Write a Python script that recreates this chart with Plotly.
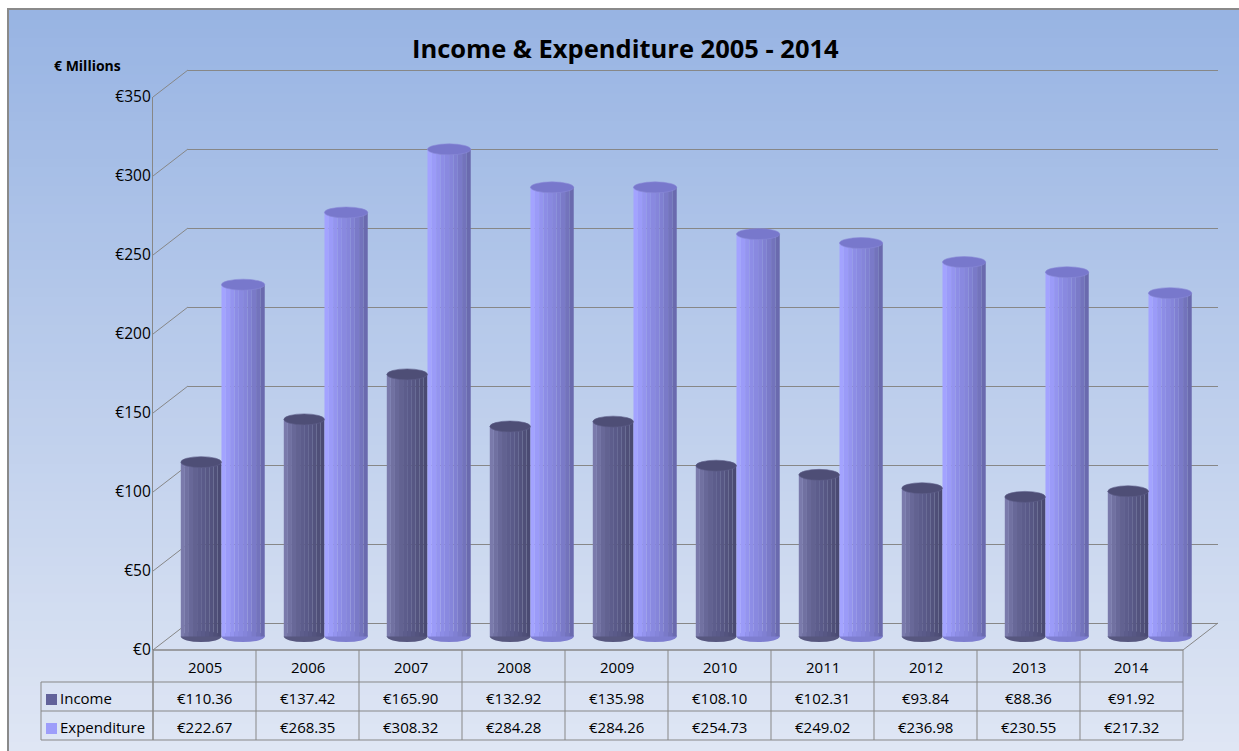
import plotly.graph_objects as go

# ---------------- data ----------------
years = [2005, 2006, 2007, 2008, 2009, 2010, 2011, 2012, 2013, 2014]
income = [110.36, 137.42, 165.90, 132.92, 135.98, 108.10, 102.31, 93.84, 88.36, 91.92]
expenditure = [222.67, 268.35, 308.32, 284.28, 284.26, 254.73, 249.02, 236.98, 230.55, 217.32]
series_names = ["Income", "Expenditure"]
y_ticks = [0, 50, 100, 150, 200, 250, 300, 350]
title_text = "Income & Expenditure 2005 - 2014"
axis_title = "€ Millions"

# ---------------- geometry helpers (pixels -> paper) ----------------
W, H = 1239, 751
def px(x):
    return x / W
def py(y):
    return 1 - y / H

K = 79.0 / 50.0            # pixels per € million
FRONT_X0, FRONT_X1, FRONT_Y0 = 153, 1183, 650
DX, DY = 35, -27           # depth offset of the back wall
BACK_X0, BACK_X1, BACK_Y0 = FRONT_X0 + DX, FRONT_X1 + DX, FRONT_Y0 + DY
MID_X0, MID_X1, MID_Y0 = FRONT_X0 + DX / 2, FRONT_X1 + DX / 2, FRONT_Y0 + DY / 2

def ydom(y0pix, lo, hi):
    return [py(y0pix - lo * K), py(y0pix - hi * K)]

GRID = "#878787"
FONT = "Open Sans"

fig = go.Figure()

# ---------------- background ----------------
shapes = []
top_c = (152, 180, 227)
bot_c = (223, 230, 244)
n_bg = 80
y_start, y_end = 10, H
for i in range(n_bg):
    f = i / (n_bg - 1)
    c = tuple(int(round(top_c[k] + f * (bot_c[k] - top_c[k]))) for k in range(3))
    ya = y_start + (y_end - y_start) * i / n_bg
    yb = y_start + (y_end - y_start) * (i + 1) / n_bg + 0.8
    shapes.append(dict(type="rect", xref="paper", yref="paper", layer="below",
                       x0=px(9), x1=1.0, y0=py(min(yb, H)), y1=py(ya),
                       fillcolor="rgb(%d,%d,%d)" % c, line=dict(width=0)))
# chart border
shapes.append(dict(type="rect", xref="paper", yref="paper", layer="below",
                   x0=px(8), x1=px(W + 5), y0=py(H + 5), y1=py(9),
                   line=dict(color="#8a8a8a", width=2), fillcolor="rgba(0,0,0,0)"))

# side-wall diagonals for each tick
for t in y_ticks:
    shapes.append(dict(type="line", xref="paper", yref="paper", layer="below",
                       x0=px(FRONT_X0), y0=py(FRONT_Y0 - t * K),
                       x1=px(BACK_X0), y1=py(BACK_Y0 - t * K),
                       line=dict(color=GRID, width=1)))
# right floor diagonal
shapes.append(dict(type="line", xref="paper", yref="paper", layer="below",
                   x0=px(FRONT_X1), y0=py(FRONT_Y0), x1=px(BACK_X1), y1=py(BACK_Y0),
                   line=dict(color=GRID, width=1)))

# ---------------- data table lines ----------------
ROW_Y = [650, 682, 711, 740]
TAB_L = 41
colw = (FRONT_X1 - FRONT_X0) / len(years)
shapes.append(dict(type="line", xref="paper", yref="paper", layer="below",
                   x0=px(FRONT_X0), x1=px(FRONT_X1), y0=py(ROW_Y[0]), y1=py(ROW_Y[0]),
                   line=dict(color=GRID, width=1.5)))
for yy in ROW_Y[1:]:
    shapes.append(dict(type="line", xref="paper", yref="paper", layer="below",
                       x0=px(TAB_L), x1=px(FRONT_X1), y0=py(yy), y1=py(yy),
                       line=dict(color=GRID, width=1)))
shapes.append(dict(type="line", xref="paper", yref="paper", layer="below",
                   x0=px(TAB_L), x1=px(TAB_L), y0=py(ROW_Y[1]), y1=py(ROW_Y[3]),
                   line=dict(color=GRID, width=1)))
for k in range(len(years) + 1):
    xx = FRONT_X0 + k * colw
    shapes.append(dict(type="line", xref="paper", yref="paper", layer="below",
                       x0=px(xx), x1=px(xx), y0=py(ROW_Y[0]), y1=py(ROW_Y[3]),
                       line=dict(color=GRID, width=1)))
# front axis line continued down through the table
shapes.append(dict(type="line", xref="paper", yref="paper", layer="below",
                   x0=px(FRONT_X0), x1=px(FRONT_X0), y0=py(ROW_Y[3]), y1=py(FRONT_Y0),
                   line=dict(color=GRID, width=1)))

# legend keys in table
key_colors = ["#62629a", "#9d9dfa"]
key_y = [(694, 705), (723, 734)]
for kc, (a, b) in zip(key_colors, key_y):
    shapes.append(dict(type="rect", xref="paper", yref="paper", layer="above",
                       x0=px(46), x1=px(57), y0=py(b), y1=py(a),
                       fillcolor=kc, line=dict(width=0)))

# ---------------- cylinders (bars as vertical strips) ----------------
inc_cols = ["#7a7aab", "#7171a1", "#686898", "#626291", "#5d5d8c", "#5a5a89",
            "#575784", "#53537e", "#4f4f78", "#4a4a72"]
exp_cols = ["#a3a3ff", "#9b9bf8", "#9494ef", "#8d8de6", "#8989e0", "#8585da",
            "#8080d2", "#7a7ac8", "#7373bc", "#6a6aae"]
top_cols = ["#4e4e76", "#7878cc"]
bot_cols = ["#57577f", "#7e7ed0"]
rim_cols = ["#5e5e8a", "#8a8ad8"]
offsets = [(-0.40, -0.005), (-0.005, 0.415)]
values = [income, expenditure]
cols = [inc_cols, exp_cols]
EH = 5.5 / K  # ellipse half height in data units

for s in range(2):
    o0, o1 = offsets[s]
    n = len(cols[s])
    w = (o1 - o0) / n
    for j in range(n):
        fig.add_trace(go.Bar(x=years, y=values[s], width=w, offset=o0 + j * w,
                             marker=dict(color=cols[s][j], line=dict(width=0)),
                             name=series_names[s], showlegend=False,
                             xaxis="x3", yaxis="y3", hoverinfo="skip"))
    for yr, v in zip(years, values[s]):
        shapes.append(dict(type="circle", xref="x3", yref="y3", layer="below",
                           x0=yr + o0, x1=yr + o1, y0=-EH, y1=EH,
                           fillcolor=bot_cols[s], line=dict(width=0)))
        shapes.append(dict(type="circle", xref="x3", yref="y3", layer="above",
                           x0=yr + o0, x1=yr + o1, y0=v - EH, y1=v + EH,
                           fillcolor=top_cols[s], line=dict(color=rim_cols[s], width=0.6)))

# dummy traces to create the back / front subplots
fig.add_trace(go.Scatter(x=[years[0]], y=[0], xaxis="x", yaxis="y", mode="markers",
                         marker=dict(opacity=0), showlegend=False, hoverinfo="skip"))
fig.add_trace(go.Scatter(x=[years[0]], y=[0], xaxis="x2", yaxis="y2", mode="markers",
                         marker=dict(opacity=0), showlegend=False, hoverinfo="skip"))

# ---------------- annotations ----------------
ann = []
ann.append(dict(text="<b>%s</b>" % title_text, xref="paper", yref="paper",
                x=px(625), y=py(48), showarrow=False, xanchor="center", yanchor="middle",
                font=dict(family=FONT, size=25.5, color="black")))
ann.append(dict(text="<b>%s</b>" % axis_title, xref="paper", yref="paper",
                x=px(52), y=py(65), showarrow=False, xanchor="left", yanchor="middle",
                font=dict(family=FONT, size=14, color="black")))
row_text_y = [667, 698, 727]
TFS = 15
for k, yr in enumerate(years):
    cx = FRONT_X0 + (k + 0.5) * colw
    ann.append(dict(text=str(yr), xref="paper", yref="paper", x=px(cx), y=py(row_text_y[0]),
                    showarrow=False, xanchor="center", yanchor="middle",
                    font=dict(family=FONT, size=TFS, color="black")))
    for s in range(2):
        ann.append(dict(text="€%.2f" % values[s][k], xref="paper", yref="paper",
                        x=px(cx), y=py(row_text_y[s + 1]), showarrow=False,
                        xanchor="center", yanchor="middle",
                        font=dict(family=FONT, size=TFS, color="black")))
for s in range(2):
    ann.append(dict(text=series_names[s], xref="paper", yref="paper", x=px(58),
                    y=py(row_text_y[s + 1]), showarrow=False, xanchor="left", yanchor="middle",
                    font=dict(family=FONT, size=TFS, color="black")))

# ---------------- layout ----------------
hidden_x = dict(showgrid=False, zeroline=False, showticklabels=False, showline=False,
                ticks="", automargin=False)
fig.update_layout(
    template="none",
    width=W, height=H, autosize=False,
    margin=dict(l=0, r=0, t=0, b=0, pad=0, autoexpand=False),
    paper_bgcolor="white", plot_bgcolor="rgba(0,0,0,0)",
    showlegend=False, barmode="overlay",
    shapes=shapes, annotations=ann,
    # back wall
    xaxis=dict(domain=[px(BACK_X0), px(BACK_X1)], range=[2004.5, 2014.5], **hidden_x),
    yaxis=dict(domain=ydom(BACK_Y0, -1, 351), range=[-1, 351], anchor="x",
               tickvals=y_ticks, showgrid=True, gridcolor=GRID, gridwidth=1.3,
               zeroline=False, showticklabels=False, showline=False, ticks="",
               automargin=False),
    # front axis
    xaxis2=dict(domain=[px(FRONT_X0), px(FRONT_X1)], range=[2004.5, 2014.5], anchor="y2", **hidden_x),
    yaxis2=dict(domain=ydom(FRONT_Y0, 0, 350), range=[0, 350], anchor="x2",
                tickvals=y_ticks, ticktext=["€%d" % t for t in y_ticks],
                showgrid=False, zeroline=False, showline=True, linecolor=GRID, linewidth=1.3,
                ticks="", automargin=False, ticklabelstandoff=-2,
                tickfont=dict(family=FONT, size=15.5, color="black")),
    # cylinders (mid depth)
    xaxis3=dict(domain=[px(MID_X0), px(MID_X1)], range=[2004.5, 2014.5], anchor="y3", **hidden_x),
    yaxis3=dict(domain=ydom(MID_Y0, -15, 360), range=[-15, 360], anchor="x3",
                showgrid=False, zeroline=False, showticklabels=False, showline=False,
                ticks="", automargin=False),
)

fig.write_html("out.html", config={"displayModeBar": False, "responsive": False},
               post_script="document.body.style.margin='0px';document.body.style.overflow='hidden';")
